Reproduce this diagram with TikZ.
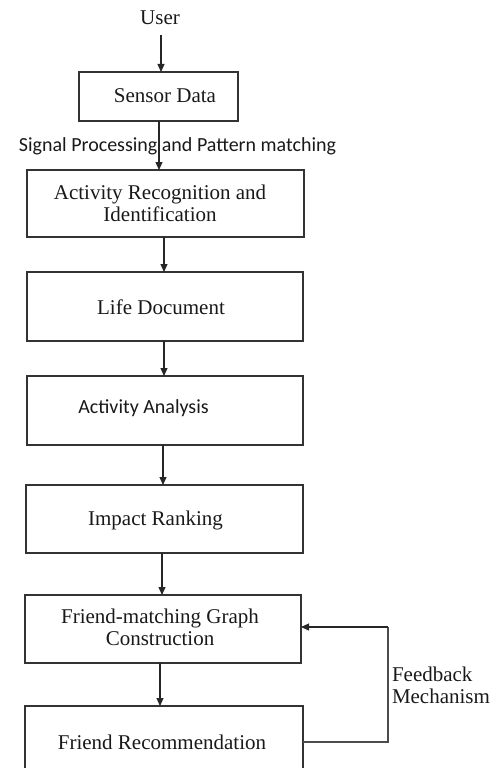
\documentclass[tikz,border=0pt]{standalone}
\usepackage{fontspec}
\setmainfont{Liberation Serif}
\newfontfamily\calib{Carlito}
\usetikzlibrary{arrows.meta,calc}
\begin{document}
\begin{tikzpicture}[x=1pt,y=-1pt,
  every node/.style={inner sep=0pt,outer sep=0pt,text=black!90},
  box/.style={draw=black!80,line width=1.3pt,rectangle},
  lbl/.style={font=\fontsize{21}{22}\selectfont,align=center},
  slbl/.style={font=\calib\fontsize{20}{22}\selectfont},
  arr/.style={draw=black!85,line width=1.1pt,-{Triangle[length=8pt,width=7pt]}},
  fb/.style={draw=black!70,line width=1.1pt}]
\useasboundingbox (0,0) rectangle (494,768);
\clip (0,0) rectangle (494,768);
% boxes
\node[box,minimum width=159pt,minimum height=49pt] (sensor) at (158.5,96.5) {};
\node[box,minimum width=277pt,minimum height=67pt] (actrec) at (165.5,203.5) {};
\node[box,minimum width=276pt,minimum height=69pt] (life) at (165,306.5) {};
\node[box,minimum width=276pt,minimum height=69pt] (analysis) at (165,410.5) {};
\node[box,minimum width=277pt,minimum height=68pt] (impact) at (164.5,519) {};
\node[box,minimum width=276pt,minimum height=68pt] (fmg) at (163,629) {};
\node[box,minimum width=278pt,minimum height=72pt] (frec) at (164,742) {};
% texts
\node[lbl] (user) at (160,18) {User};
\node[lbl] (tsensor) at (165,96) {Sensor Data};
\node[slbl] (signal) at (177.5,146) {Signal Processing and Pattern matching};
\node[lbl] (tactrec) at (160,203) {Activity Recognition and\\Identification};
\node[lbl] (tlife) at (161,307) {Life Document};
\node[slbl] (tanalysis) at (143.5,408) {Activity Analysis};
\node[lbl] (timpact) at (155.5,520) {Impact Ranking};
\node[lbl] (tfmg) at (160,627) {Friend-matching Graph\\Construction};
\node[lbl] (tfrec) at (162,742) {Friend Recommendation};
\node[lbl,align=left,anchor=west] (tfb) at (392,685) {Feedback\\Mechanism};
% connectors
\coordinate (c1) at (161,35);
\coordinate (c2) at ($(sensor.south)+(0.5,0)$);
\coordinate (c3) at ($(actrec.south)+(-1.5,0)$);
\coordinate (c4) at ($(life.south)+(-1,0)$);
\coordinate (c5) at ($(analysis.south)+(-2,0)$);
\coordinate (c6) at ($(impact.south)+(-2.5,0)$);
\coordinate (c7) at ($(fmg.south)+(-3,0)$);
\draw[arr] (c1) -- (c1 |- sensor.north);
\draw[arr] (c2) -- (c2 |- actrec.north);
\draw[arr] (c3) -- (c3 |- life.north);
\draw[arr] (c4) -- (c4 |- analysis.north);
\draw[arr] (c5) -- (c5 |- impact.north);
\draw[arr] (c6) -- (c6 |- fmg.north);
\draw[arr] (c7) -- (c7 |- frec.north);
\coordinate (fbx) at (388,627);
\draw[fb] (frec.east) -- (frec.east -| fbx) -- (fbx);
\draw[arr] (fbx) -- (fbx -| fmg.east);
\end{tikzpicture}
\end{document}
